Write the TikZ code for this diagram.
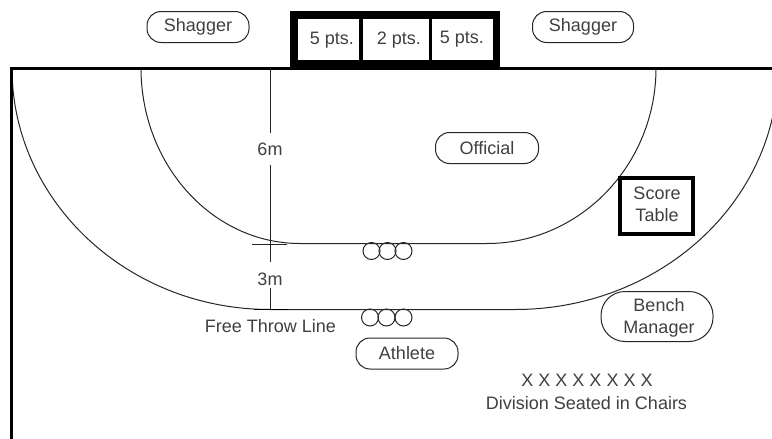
\documentclass[tikz,border=0pt]{standalone}
\usepackage{fontspec}
\setmainfont{Liberation Sans}
\definecolor{ink}{gray}{0.15}
\definecolor{txt}{gray}{0.25}
\tikzset{
  thinline/.style={draw=ink,line width=1pt},
  heavy/.style={draw=black,line width=3pt},
  lab/.style={font=\fontsize{18}{22}\selectfont,text=txt,inner sep=0pt,align=center},
  pill/.style={draw=ink,line width=1pt,rounded corners=14pt,fill=white,inner sep=0pt,minimum height=31pt,font=\fontsize{18}{22}\selectfont,text=txt,align=center},
  ring/.style={circle,draw=ink,line width=1pt,minimum size=17pt,inner sep=0pt},
  cell/.style={fill=white,inner sep=0pt}
}
\begin{document}
\begin{tikzpicture}[x=1pt,y=-1pt]
\useasboundingbox (0,0) rectangle (772,439);
\fill[white] (0,0) rectangle (772,439);
% arcs
\begin{scope}
\clip (0,0) rectangle (772,439);
\draw[thinline] (141,68) .. controls (141,164.6) and (212.2,243.5) .. (300,243.5) -- (487,243.5) .. controls (580.3,243.5) and (656,164.6) .. (656,68);
\draw[thinline] (12,68) .. controls (12,201.1) and (127.5,309.5) .. (270,309.5) -- (515,309.5) .. controls (660.3,309.5) and (778,201.1) .. (778,68);
\end{scope}
% court border
\coordinate (tl) at (11,68);
\coordinate (bl) at (11,439);
\coordinate (tr) at (772,68);
\draw[heavy] (bl) -- (tl) -- (tr);
% goal
\fill[black] (290,11) rectangle (500,69);
\node[cell,minimum width=61pt,minimum height=41pt] (c1) at (328.5,39.5) {};
\node[cell,minimum width=66pt,minimum height=41pt] (c2) at (396,39.5) {};
\node[cell,minimum width=61pt,minimum height=41pt] (c3) at (462.5,39.5) {};
\node[lab] (t1) at (332,40) {5 pts.};
\node[lab] (t2) at (399,40) {2 pts.};
\node[lab] (t3) at (462,39) {5 pts.};
% measuring lines
\coordinate (mtop) at (270.5,68);
\coordinate (mbot) at (270.5,309);
\coordinate (g3a) at (270.5,262);
\coordinate (g3b) at (270.5,288);
\node[lab,minimum height=32pt] (six) at (270,149) {6m};
\node[lab] (three) at (270,279) {3m};
\draw[thinline] (mtop) -- (six.north -| mtop);
\draw[thinline] (six.south -| mtop) -- (g3a);
\draw[thinline] (g3b) -- (mbot);
\coordinate (xa) at (252,244.5);
\coordinate (xb) at (287,244.5);
\draw[thinline] (xa) -- (xb);
\coordinate (fa) at (254,309.5);
\coordinate (fb) at (288,309.5);
\draw[draw=black,line width=1.6pt] (fa) -- (fb);
% rings
\foreach \n/\x in {a/371.5,b/387.5,c/403.5}{\node[ring] (u\n) at (\x,251) {};}
\foreach \n/\x in {d/370,e/386.5,f/403.5}{\node[ring] (l\n) at (\x,317.5) {};}
% pills
\node[pill,minimum width=102pt] (s1) at (198,27) {Shagger};
\node[pill,minimum width=101pt] (s2) at (583,27) {Shagger};
\node[pill,minimum width=103pt] (off) at (487,148) {Official};
\node[pill,minimum width=102pt] (ath) at (407,353.5) {Athlete};
\node[pill,minimum width=112pt,minimum height=50pt,rounded corners=24pt] (bm) at (657,316.5) {};
\node[lab] (bmt) at (659,318) {Bench\\Manager};
% score table
\node[draw=black,line width=4pt,fill=white,minimum width=73pt,minimum height=56pt] (st) at (656,206) {};
\node[lab] (stt) at (657,204) {Score\\Table};
% text
\node[lab] (ftl) at (270.5,326) {Free Throw Line};
\node[lab] (xx) at (587,380) {X X X X X X X X};
\node[lab] (div) at (586.5,403) {Division Seated in Chairs};
\end{tikzpicture}
\end{document}
